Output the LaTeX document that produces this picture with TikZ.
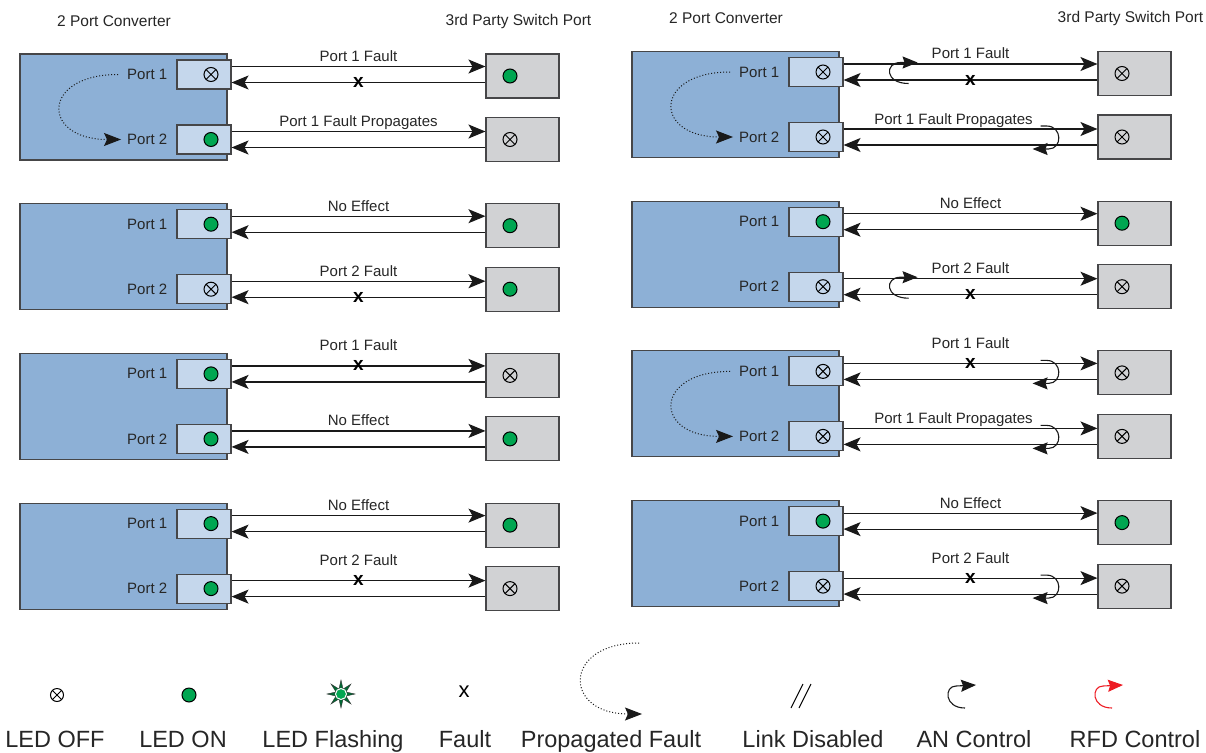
\documentclass[tikz,border=0pt]{standalone}
\usepackage{fontspec}
\setmainfont{Liberation Sans}
\usetikzlibrary{arrows.meta, positioning, shapes.geometric}

\definecolor{convblue}{RGB}{141,176,214}
\definecolor{portblue}{RGB}{197,215,236}
\definecolor{swgray}{RGB}{209,210,212}
\definecolor{ledgreen}{RGB}{0,166,81}
\definecolor{flashgreen}{RGB}{0,105,52}
\definecolor{rfdred}{RGB}{237,28,36}
\definecolor{edgegray}{RGB}{70,70,72}

\tikzset{every picture/.style={/utils/exec={\fontsize{15}{18}\selectfont}},
  conv/.style={draw=edgegray, line width=1.1pt, fill=convblue, minimum width=207pt, minimum height=106pt, inner sep=0pt},
  portbox/.style={draw=edgegray, line width=1.1pt, fill=portblue, minimum width=54pt, minimum height=29pt, inner sep=0pt},
  swbox/.style={draw=edgegray, line width=1.1pt, fill=swgray, minimum width=73pt, minimum height=44pt, inner sep=0pt},
  ledon/.style={circle, draw=black, line width=1pt, fill=ledgreen, minimum size=14pt, inner sep=0pt},
  ledoff/.style={circle, draw=black, line width=1pt, minimum size=14pt, inner sep=0pt,
    path picture={\draw[line width=1pt] (path picture bounding box.north west) -- (path picture bounding box.south east)
      (path picture bounding box.north east) -- (path picture bounding box.south west);}},
  portlbl/.style={inner sep=1pt, text=black!85},
  title/.style={inner sep=0pt, font=\fontsize{15.5}{18}\selectfont, text=black!85},
  lbl/.style={anchor=base, yshift=5pt, inner sep=0pt, text=black!85},
  raised/.style={yshift=10pt},
  fault/.style={inner sep=0pt, font=\fontsize{19}{20}\selectfont\bfseries},
  wire/.style={draw=black!90, line width=1.2pt, >={Stealth[length=17pt, width=14pt, inset=4pt]}},
  propag/.style={draw=black!90, line width=1pt, dotted, -{Stealth[length=17pt, width=13pt, inset=3pt]}},
  anhook/.style={draw=black!90, line width=1.1pt, -{Stealth[length=15pt, width=12pt, inset=2pt]}},
  legend/.style={anchor=base, inner sep=0pt, font=\fontsize{23.5}{28}\selectfont, text=black!85}
}

% one converter with its two switch ports
\newcommand{\convunit}[7]{%
  \begin{scope}[shift={(#2,#3)}]
    \node[conv] (#1c) at (123.5,107) {};
    \node[portbox] (#1p1) at (204,74.5) {};
    \node[portbox] (#1p2) at (204,139.5) {};
    \node[portlbl, left=8pt of #1p1] (#1l1) {Port 1};
    \node[portlbl, left=8pt of #1p2] (#1l2) {Port 2};
    \node[swbox] (#1s1) at (522.5,76) {};
    \node[swbox] (#1s2) at (522.5,139.5) {};
    \node[#4] (#1d1) at ([xshift=7pt]#1p1.center) {};
    \node[#5] (#1d2) at ([xshift=7pt]#1p2.center) {};
    \node[#6] (#1e1) at ([xshift=-12.5pt]#1s1.center) {};
    \node[#7] (#1e2) at ([xshift=-12.5pt]#1s2.center) {};
    \draw[wire, ->] ([yshift=8pt]#1p1.east) -- ([yshift=8pt]#1p1.east -| #1s1.west) coordinate[midway] (#1f1);
    \draw[wire, <-] ([yshift=-8pt]#1p1.east) -- ([yshift=-8pt]#1p1.east -| #1s1.west) coordinate[midway] (#1b1);
    \draw[wire, ->] ([yshift=8pt]#1p2.east) -- ([yshift=8pt]#1p2.east -| #1s2.west) coordinate[midway] (#1f2);
    \draw[wire, <-] ([yshift=-8pt]#1p2.east) -- ([yshift=-8pt]#1p2.east -| #1s2.west) coordinate[midway] (#1b2);
  \end{scope}}

\begin{document}
\begin{tikzpicture}[x=1pt, y=-1pt]
    \useasboundingbox (0,0) rectangle (1206,752);

    % Headings
    \node[title] (hA) at (114,21) {2 Port Converter};
    \node[title] (hB) at (518.5,21) {3rd Party Switch Port};
    \node[title] (hC) at (726,18) {2 Port Converter};
    \node[title] (hD) at (1130.5,18) {3rd Party Switch Port};

    % Left column
    \convunit{A}{0}{0}{ledoff}{ledon}{ledon}{ledoff}
    \node[lbl] (At1) at (Af1) {Port 1 Fault};
    \node[fault] (Ax1) at (Ab1) {x};
    \node[lbl] (At2) at (Af2) {Port 1 Fault Propagates};
    \draw[propag] ([xshift=-8pt]Al1.west) .. controls +(-77,0) and +(-80,0) .. ([xshift=-5pt]Al2.west);

    \convunit{B}{0}{149.7}{ledon}{ledoff}{ledon}{ledon}
    \node[lbl] (Bt1) at (Bf1) {No Effect};
    \node[lbl] (Bt2) at (Bf2) {Port 2 Fault};
    \node[fault] (Bx2) at (Bb2) {x};

    \convunit{C}{0}{299.4}{ledon}{ledon}{ledoff}{ledon}
    \node[lbl, raised] (Ct1) at (Cf1) {Port 1 Fault};
    \node[fault] (Cx1) at (Cf1) {x};
    \node[lbl] (Ct2) at (Cf2) {No Effect};

    \convunit{D}{0}{449.1}{ledon}{ledon}{ledon}{ledoff}
    \node[lbl] (Dt1) at (Df1) {No Effect};
    \node[lbl, raised] (Dt2) at (Df2) {Port 2 Fault};
    \node[fault] (Dx2) at (Df2) {x};

    % Right column
    \convunit{E}{612}{-2.5}{ledoff}{ledoff}{ledoff}{ledoff}
    \node[lbl] (Et1) at (Ef1) {Port 1 Fault};
    \node[fault] (Ex1) at (Eb1) {x};
    \node[lbl, xshift=-17pt] (Et2) at (Ef2) {Port 1 Fault Propagates};
    \draw[propag] ([xshift=-8pt]El1.west) .. controls +(-77,0) and +(-80,0) .. ([xshift=-5pt]El2.west);
    \draw[anhook] ([xshift=65pt, yshift=-11.5pt]Ep1.east) .. controls +(-24,0) and +(-16,0) .. ([xshift=57pt, yshift=9.5pt]Ep1.east) -- ([xshift=74pt, yshift=9.5pt]Ep1.east);
    \draw[anhook] ([xshift=197pt, yshift=11pt]Ep2.east) -- ([xshift=203pt, yshift=11pt]Ep2.east) .. controls +(16,0) and +(14,0) .. ([xshift=205pt, yshift=-12pt]Ep2.east) -- ([xshift=189pt, yshift=-12pt]Ep2.east);

    \convunit{F}{612}{147.2}{ledon}{ledoff}{ledon}{ledoff}
    \node[lbl] (Ft1) at (Ff1) {No Effect};
    \node[lbl] (Ft2) at (Ff2) {Port 2 Fault};
    \node[fault] (Fx2) at (Fb2) {x};
    \draw[anhook] ([xshift=65pt, yshift=-11.5pt]Fp2.east) .. controls +(-24,0) and +(-16,0) .. ([xshift=57pt, yshift=9.5pt]Fp2.east) -- ([xshift=74pt, yshift=9.5pt]Fp2.east);

    \convunit{G}{612}{296.9}{ledoff}{ledoff}{ledoff}{ledoff}
    \node[lbl, raised] (Gt1) at (Gf1) {Port 1 Fault};
    \node[fault] (Gx1) at (Gf1) {x};
    \node[lbl, xshift=-17pt] (Gt2) at (Gf2) {Port 1 Fault Propagates};
    \draw[propag] ([xshift=-8pt]Gl1.west) .. controls +(-77,0) and +(-80,0) .. ([xshift=-5pt]Gl2.west);
    \draw[anhook] ([xshift=197pt, yshift=11pt]Gp1.east) -- ([xshift=203pt, yshift=11pt]Gp1.east) .. controls +(16,0) and +(14,0) .. ([xshift=205pt, yshift=-12pt]Gp1.east) -- ([xshift=189pt, yshift=-12pt]Gp1.east);
    \draw[anhook] ([xshift=197pt, yshift=11pt]Gp2.east) -- ([xshift=203pt, yshift=11pt]Gp2.east) .. controls +(16,0) and +(14,0) .. ([xshift=205pt, yshift=-12pt]Gp2.east) -- ([xshift=189pt, yshift=-12pt]Gp2.east);

    \convunit{H}{612}{446.6}{ledon}{ledoff}{ledon}{ledoff}
    \node[lbl] (Ht1) at (Hf1) {No Effect};
    \node[lbl, raised] (Ht2) at (Hf2) {Port 2 Fault};
    \node[fault] (Hx2) at (Hf2) {x};
    \draw[anhook] ([xshift=197pt, yshift=11pt]Hp2.east) -- ([xshift=203pt, yshift=11pt]Hp2.east) .. controls +(16,0) and +(14,0) .. ([xshift=205pt, yshift=-12pt]Hp2.east) -- ([xshift=189pt, yshift=-12pt]Hp2.east);

    % Legend
    \node[ledoff, minimum size=13pt] (k1) at (57,695) {};
    \node[ledon, minimum size=14pt] (k2) at (189,695) {};
    \node[star, star points=8, star point ratio=2.6, minimum size=28pt, inner sep=0pt, fill=flashgreen, draw=black!80, line width=0.4pt] (k3) at (341,694) {};
    \node[ledon, draw=white, minimum size=11pt] (k3c) at (k3.center) {};
    \node[fault, font=\fontsize{22}{24}\selectfont] (k4) at (464,692) {x};
    \coordinate (k5a) at (639,643);
    \coordinate (k5b) at (642,714);
    \draw[propag] (k5a) .. controls +(-76.5,0) and +(-79.5,0) .. (k5b);
    \draw[line width=1pt] (791,708) -- (803,684) (799,708) -- (811,684);
    \coordinate (k7a) at (965,708);
    \coordinate (k7b) at (956,686);
    \draw[anhook] (k7a) .. controls +(-21,0) and +(-12,0) .. (k7b) -- +(20,-1);
    \coordinate (k8a) at (1112,708);
    \coordinate (k8b) at (1103,686);
    \draw[anhook, draw=rfdred] (k8a) .. controls +(-21,0) and +(-12,0) .. (k8b) -- +(20,-1);

    \node[legend] (n1) at (55,747) {LED OFF};
    \node[legend] (n2) at (183,747) {LED ON};
    \node[legend] (n3) at (333,747) {LED Flashing};
    \node[legend] (n4) at (465,747) {Fault};
    \node[legend] (n5) at (611,747) {Propagated Fault};
    \node[legend] (n6) at (813,747) {Link Disabled};
    \node[legend] (n7) at (974,747) {AN Control};
    \node[legend] (n8) at (1135,747) {RFD Control};
\end{tikzpicture}
\end{document}
